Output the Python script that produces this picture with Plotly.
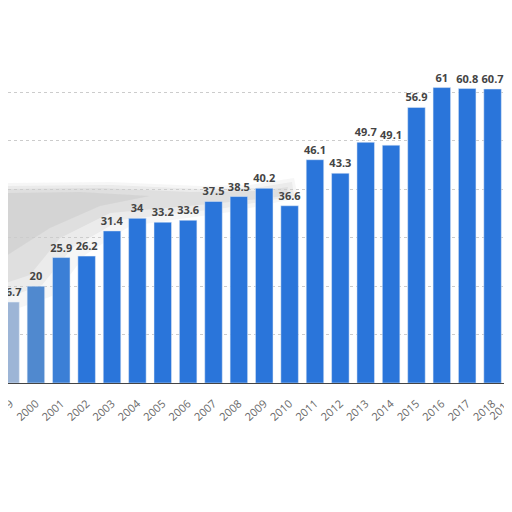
import plotly.graph_objects as go

years = list(range(1999, 2020))
values = [16.7, 20, 25.9, 26.2, 31.4, 34, 33.2, 33.6, 37.5, 38.5, 40.2,
          36.6, 46.1, 43.3, 49.7, 49.1, 56.9, 61, 60.8, 60.7, 47.9]
grid_vals = [10, 20, 30, 40, 50, 60]

# left bars look washed out in the picture
bar_colors = ['#9db5d6', '#5089cf', '#3b7fd6'] + ['#2a75da'] * (len(years) - 3)

# page body has an 8px margin: keep the figure small enough that no scrollbars show up
OFF = 8
W, H = 504, 470
BASE = 383  # baseline on screen
X_RANGE = [1998.90, 2018.766]


def to_paper(pts):
    # screen pixels -> paper coords, for the decorative smudge only
    return ' '.join(('M' if i == 0 else 'L') + '%.4f,%.4f' % ((x - OFF) / W, (BASE - y) / (BASE - OFF))
                    for i, (x, y) in enumerate(pts)) + ' Z'


# gray "torn paper" shadow, a few stacked layers so the edge looks soft
smudges = [
    ([(0, 183), (110, 182), (200, 186), (250, 185), (294, 178), (298, 198),
      (230, 212), (130, 226), (85, 255), (55, 295), (0, 315)], 0.08),
    ([(0, 186), (110, 185), (200, 189), (255, 188), (292, 182), (294, 196),
      (225, 208), (120, 220), (72, 248), (42, 285), (0, 300)], 0.10),
    ([(0, 189), (100, 188), (190, 192), (260, 191), (288, 187), (286, 196),
      (210, 204), (110, 213), (60, 238), (30, 275), (0, 285)], 0.12),
    ([(0, 193), (80, 192), (150, 196), (100, 206), (50, 228), (0, 260)], 0.12),
]

fig = go.Figure()

for pts, op in smudges:
    fig.add_shape(type='path', xref='paper', yref='paper', path=to_paper(pts),
                  fillcolor='rgba(140,140,140,%s)' % op, line_width=0, layer='below')

fig.add_trace(go.Bar(
    x=years,
    y=values,
    marker_color=bar_colors,
    texttemplate='%{y}',
    textposition='outside',
    constraintext='none',
    textfont=dict(family='Open Sans', size=11, color='#444444', weight='bold'),
    cliponaxis=False,
))

# last year label sits past the axis range, so place it by hand (only "201" shows)
last_x = (years[-1] - X_RANGE[0]) / (X_RANGE[1] - X_RANGE[0])
fig.add_annotation(x=last_x, y=-9 / (BASE - OFF), xref='paper', yref='paper',
                   text=str(years[-1]), showarrow=False, textangle=-42,
                   xanchor='right', yanchor='top',
                   font=dict(family='Open Sans', size=11, color='#6a6a6a'))

fig.update_layout(
    width=W,
    height=H,
    margin=dict(l=0, r=0, t=0, b=H - (BASE - OFF)),
    plot_bgcolor='rgba(0,0,0,0)',
    paper_bgcolor='white',
    bargap=0.31,
    showlegend=False,
)

fig.update_xaxes(
    range=X_RANGE,
    tickvals=years,
    ticktext=[str(y) for y in years],
    tickangle=-42,
    ticklabeloverflow='allow',
    ticklabelstandoff=9,
    automargin=False,
    tickfont=dict(family='Open Sans', size=11, color='#6a6a6a'),
    showline=True, linecolor='#444444', linewidth=1,
    showgrid=False, zeroline=False,
)
fig.update_yaxes(
    range=[0, 77.43],
    tickvals=grid_vals,
    showticklabels=False,
    automargin=False,
    showgrid=True, gridcolor='#cccccc', griddash='dot', gridwidth=1,
    zeroline=False,
)

fig.write_html("out.html")
